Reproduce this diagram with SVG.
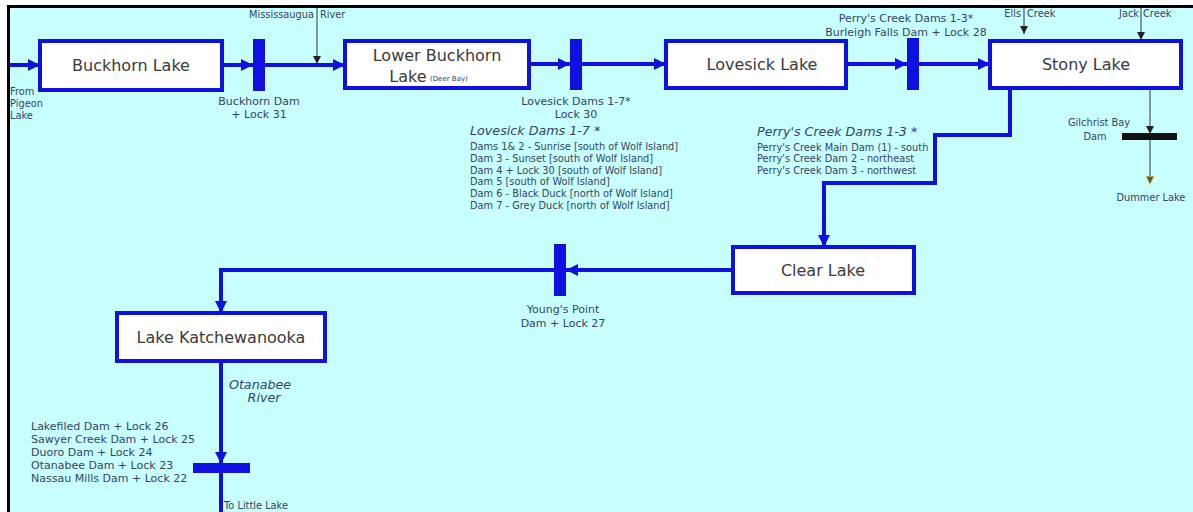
<svg xmlns="http://www.w3.org/2000/svg" width="1193" height="512" viewBox="0 0 1193 512">
<style>
.box{fill:#ffffff;stroke:#1010e0;stroke-width:4}
.dam{fill:#1010e0}
.bl{fill:none;stroke:#1010e0;stroke-width:4}
.th{fill:none;stroke:#333;stroke-width:1}
.lab{font-family:"DejaVu Sans",sans-serif;font-size:16px;fill:#3a3a3a;text-anchor:middle}
.s{font-family:"DejaVu Sans",sans-serif;font-size:11px;fill:#34445f}
.xs{font-family:"DejaVu Sans",sans-serif;font-size:9.8px;fill:#34445f}
.it{font-family:"DejaVu Sans",sans-serif;font-size:12.7px;font-style:italic;fill:#34445f}
.m{text-anchor:middle}
</style>
<defs>
<marker id="ab" viewBox="0 0 12 12" refX="12" refY="6" markerWidth="12" markerHeight="12" markerUnits="userSpaceOnUse" orient="auto"><path d="M0,0 L12,6 L0,12 Z" fill="#1010e0"/></marker>
<marker id="ak" viewBox="0 0 8 8" refX="8" refY="4" markerWidth="8" markerHeight="8" markerUnits="userSpaceOnUse" orient="auto"><path d="M0,0 L8,4 L0,8 Z" fill="#222"/></marker>
<marker id="ay" viewBox="0 0 10 10" refX="9" refY="5" markerWidth="10" markerHeight="10" markerUnits="userSpaceOnUse" orient="auto"><path d="M0,0.5 L9,5 L0,9.5 Z" fill="#5a5a40" stroke="#f4f08a" stroke-width="1"/></marker>
</defs>
<rect width="1193" height="512" fill="#ffffff"/>
<rect x="8" y="6" width="1185" height="506" fill="#c8ffff"/>
<line x1="7" y1="6.5" x2="1193" y2="6.5" stroke="#000" stroke-width="3"/>
<line x1="8.5" y1="5" x2="8.5" y2="512" stroke="#000" stroke-width="3"/>

<g id="connectors">
<line class="bl" x1="9" y1="65" x2="40" y2="65" marker-end="url(#ab)"/>
<line class="bl" x1="222" y1="65" x2="253" y2="65" marker-end="url(#ab)"/>
<line class="bl" x1="265" y1="65" x2="345" y2="65" marker-end="url(#ab)"/>
<line class="th" x1="317" y1="8" x2="317" y2="64" marker-end="url(#ak)"/>
<line class="bl" x1="529" y1="64" x2="570" y2="64" marker-end="url(#ab)"/>
<line class="bl" x1="582" y1="64" x2="666" y2="64" marker-end="url(#ab)"/>
<line class="bl" x1="846" y1="64" x2="907" y2="64" marker-end="url(#ab)"/>
<line class="bl" x1="919" y1="64" x2="990" y2="64" marker-end="url(#ab)"/>
<line class="th" x1="1024" y1="8" x2="1024" y2="34" marker-end="url(#ak)"/>
<line class="th" x1="1141" y1="8" x2="1141" y2="40" marker-end="url(#ak)"/>
<line class="th" x1="1150" y1="89" x2="1150" y2="134" marker-end="url(#ak)"/>
<line class="th" x1="1150" y1="134" x2="1150" y2="185" marker-end="url(#ay)"/>
<polyline class="bl" points="1010,89 1010,135 935,135 935,183 824,183 824,247" marker-end="url(#ab)"/>
<line class="bl" x1="733" y1="270" x2="566" y2="270" marker-end="url(#ab)"/>
<polyline class="bl" points="555,270 221,270 221,313" marker-end="url(#ab)"/>
<line class="bl" x1="221" y1="361" x2="221" y2="464" marker-end="url(#ab)"/>
<line class="bl" x1="221" y1="473" x2="221" y2="512"/>
</g>

<g id="buckhorn-lake"><rect class="box" x="40" y="41" width="182" height="49"/><text class="lab" x="131" y="71">Buckhorn Lake</text></g>
<g id="buckhorn-dam"><rect class="dam" x="253" y="39" width="12" height="52"/><text class="s m" x="259" y="105">Buckhorn Dam</text><text class="s m" x="259" y="118">+ Lock 31</text></g>
<g id="lower-buckhorn"><rect class="box" x="345" y="41" width="184" height="47"/><text class="lab" x="437" y="61">Lower Buckhorn</text><text class="lab" x="408" y="82">Lake</text><text class="s" x="430" y="81" style="font-size:7px">(Deer Bay)</text></g>
<g id="lovesick-dams"><rect class="dam" x="570" y="39" width="12" height="51"/><text class="s m" x="576" y="105">Lovesick Dams 1-7*</text><text class="s m" x="576" y="118">Lock 30</text></g>
<g id="lovesick-list">
<text class="it" x="470" y="135">Lovesick Dams 1-7 *</text>
<text class="xs" x="470" y="150">Dams 1&amp; 2 - Sunrise [south of Wolf Island]</text>
<text class="xs" x="470" y="162">Dam 3 - Sunset [south of Wolf Island]</text>
<text class="xs" x="470" y="174">Dam 4 + Lock 30 [south of Wolf Island]</text>
<text class="xs" x="470" y="185">Dam 5 [south of Wolf Island]</text>
<text class="xs" x="470" y="197">Dam 6 - Black Duck [north of Wolf Island]</text>
<text class="xs" x="470" y="209">Dam 7 - Grey Duck [north of Wolf Island]</text>
</g>
<g id="lovesick-lake"><rect class="box" x="666" y="41" width="180" height="47"/><text class="lab" x="762" y="70">Lovesick Lake</text></g>
<g id="burleigh-dam"><rect class="dam" x="907" y="38" width="12" height="52"/><text class="s m" x="906" y="22">Perry's Creek Dams 1-3*</text><text class="s m" x="906" y="36">Burleigh Falls Dam + Lock 28</text></g>
<g id="perry-list">
<text class="it" x="757" y="136">Perry's Creek Dams 1-3 *</text>
<text class="xs" x="757" y="151">Perry's Creek Main Dam (1) - south</text>
<text class="xs" x="757" y="162">Perry's Creek Dam 2 - northeast</text>
<text class="xs" x="757" y="174">Perry's Creek Dam 3 - northwest</text>
</g>
<g id="stony-lake"><rect class="box" x="990" y="41" width="191" height="47"/><text class="lab" x="1086" y="70">Stony Lake</text></g>
<g id="creeks">
<text class="xs" x="1021" y="17" style="text-anchor:end">Ells</text><text class="xs" x="1027" y="17">Creek</text>
<text class="xs" x="1139" y="17" style="text-anchor:end">Jack</text><text class="xs" x="1143" y="17">Creek</text>
<text class="xs" x="314" y="18" style="text-anchor:end">Mississaugua</text><text class="xs" x="320" y="18">River</text>
</g>
<g id="gilchrist-dam"><rect x="1122" y="133" width="55" height="7" fill="#111"/><text class="xs m" x="1099" y="126">Gilchrist Bay</text><text class="xs m" x="1095" y="140">Dam</text></g>
<g id="dummer-lake"><text class="xs m" x="1151" y="201">Dummer Lake</text></g>
<g id="from-pigeon"><text class="xs" x="10" y="95">From</text><text class="xs" x="10" y="107">Pigeon</text><text class="xs" x="10" y="119">Lake</text></g>
<g id="clear-lake"><rect class="box" x="733" y="247" width="181" height="46"/><text class="lab" x="823" y="276">Clear Lake</text></g>
<g id="youngs-point"><rect class="dam" x="554" y="244" width="12" height="52"/><text class="s m" x="563" y="313">Young's Point</text><text class="s m" x="563" y="327">Dam + Lock 27</text></g>
<g id="lake-katchewanooka"><rect class="box" x="117" y="313" width="208" height="48"/><text class="lab" x="221" y="343">Lake Katchewanooka</text></g>
<g id="otanabee"><text class="it m" x="260" y="389">Otanabee</text><text class="it m" x="264" y="402">River</text></g>
<g id="otanabee-dams"><rect class="dam" x="193" y="463" width="57" height="10"/>
<text class="s" x="31" y="430">Lakefiled Dam + Lock 26</text>
<text class="s" x="31" y="443">Sawyer Creek Dam + Lock 25</text>
<text class="s" x="31" y="456">Duoro Dam + Lock 24</text>
<text class="s" x="31" y="469">Otanabee Dam + Lock 23</text>
<text class="s" x="31" y="482">Nassau Mills Dam + Lock 22</text>
</g>
<g id="little-lake"><text class="xs" x="224" y="509">To Little Lake</text></g>
</svg>
